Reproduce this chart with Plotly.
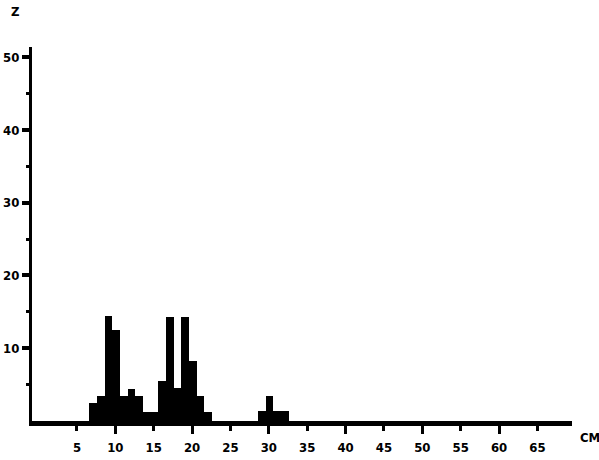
import plotly.graph_objects as go

# Histogram bins (centre of each 1-unit bin, in cm) and percentages
bin_centers = [7.1, 8.1, 9.1, 10.1, 11.1, 12.1, 13.1, 14.1, 15.1, 16.1, 17.1,
               18.1, 19.1, 20.1, 21.1, 22.1, 29.1, 30.1, 31.1, 32.1]
percent = [2.5, 3.4, 14.4, 12.5, 3.4, 4.4, 3.4, 1.3, 1.3, 5.5, 14.3,
           4.5, 14.3, 8.2, 3.4, 1.2, 1.4, 3.4, 1.4, 1.4]

x_ticks_all = [5, 10, 15, 20, 25, 30, 35, 40, 45, 50, 55, 60, 65]
x_ticks_major = [10, 20, 30, 40, 50, 60]
y_ticks_major = [10, 20, 30, 40, 50]
y_ticks_minor = [5, 15, 25, 35, 45]

FONT = dict(family="DejaVu Sans Condensed", size=13, color="black", weight=700)
X_RANGE = [-0.86, 69.5]
Y_RANGE = [0, 51.4]

fig = go.Figure()
fig.add_trace(go.Bar(x=bin_centers, y=percent, width=1.0,
                     marker=dict(color="black", line=dict(width=0)),
                     showlegend=False, hoverinfo="x+y"))
# invisible helper trace so the overlay axis (long ticks at tens) is drawn
fig.add_trace(go.Scatter(x=[X_RANGE[0]], y=[0], xaxis="x2", mode="markers",
                         marker=dict(opacity=0), showlegend=False, hoverinfo="skip"))

fig.update_layout(
    template="none",
    width=599, height=460,
    margin=dict(l=32, r=27, t=47, b=39, autoexpand=False),
    paper_bgcolor="white", plot_bgcolor="white",
    bargap=0,
    font=FONT,
    xaxis=dict(range=X_RANGE, showgrid=False, zeroline=False, automargin=False,
               showline=True, linecolor="black", linewidth=5,
               ticks="outside", tickvals=x_ticks_all, ticklen=5, tickwidth=3,
               tickcolor="black", tickfont=FONT, ticklabelstandoff=5),
    xaxis2=dict(range=X_RANGE, overlaying="x", anchor="y", side="bottom",
                showgrid=False, zeroline=False, showline=False, automargin=False,
                ticks="outside", tickvals=x_ticks_major, ticklen=12, tickwidth=3,
                tickcolor="black", showticklabels=False),
    yaxis=dict(range=Y_RANGE, showgrid=False, zeroline=False, automargin=False,
               showline=True, linecolor="black", linewidth=3,
               ticks="outside", tickvals=y_ticks_major, ticklen=7, tickwidth=4,
               tickcolor="black", tickfont=FONT,
               minor=dict(tickvals=y_ticks_minor, ticks="outside", ticklen=3,
                          tickwidth=3, tickcolor="black", showgrid=False)),
    annotations=[
        dict(text="Z", xref="paper", yref="paper", x=-0.031, y=1.095,
             showarrow=False, font=FONT, xanchor="center", yanchor="middle"),
        dict(text="CM", xref="paper", yref="paper", x=1.033, y=-0.045,
             showarrow=False, font=FONT, xanchor="center", yanchor="middle"),
    ],
)

fig.write_html("out.html",
               config={"displayModeBar": False},
               post_script="document.body.style.margin='0px';"
                           "document.body.style.padding='0px';")
